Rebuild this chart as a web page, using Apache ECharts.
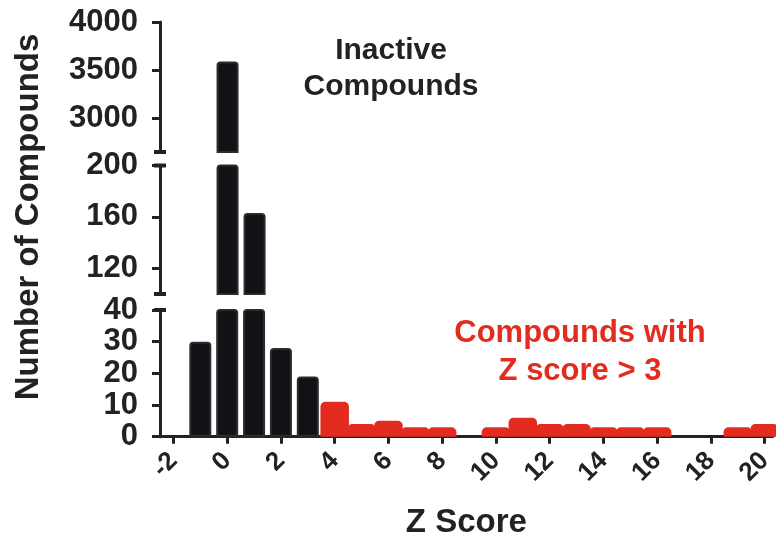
<!DOCTYPE html>
<html>
<head>
<meta charset="utf-8">
<script src="https://cdn.jsdelivr.net/npm/echarts@6/dist/echarts.min.js"></script>
<style>
  html, body { margin: 0; padding: 0; background: #fff; }
  #chart { width: 776px; height: 542px; }
</style>
</head>
<body>
<div id="chart"></div>
<script>
// histogram bins (Z score) and counts
const inactiveBins = [-1, 0, 1, 2, 3]
const inactiveCounts = [30, 3590, 163, 28, 19]
const activeBins = [4, 5, 6, 7, 8, 9, 10, 11, 12, 13, 14, 15, 16, 17, 18, 19, 20]
const activeCounts = [11, 4, 5, 3, 3, 0, 3, 6, 4, 4, 3, 3, 3, 0, 0, 3, 4]
const xTicks = [-2, 0, 2, 4, 6, 8, 10, 12, 14, 16, 18, 20]
// broken y axis: three pieces
const topTicks = [3000, 3500, 4000]
const midTicks = [120, 160, 200]
const lowTicks = [0, 10, 20, 30, 40]

const FONT = '"Liberation Sans", Arial, sans-serif'
const INK = '#222'
const RED = '#e32b1f'

const inactiveData = inactiveBins.map((b, i) => [b, inactiveCounts[i]])
const activeData = activeBins.map((b, i) => [b, activeCounts[i]])

function xAxisFor (gridIndex, visible) {
  return {
    type: 'value',
    gridIndex: gridIndex,
    min: -2.5,
    max: 20.3,
    show: visible,
    splitLine: { show: false },
    axisLine: { onZero: false, lineStyle: { color: INK, width: 3 } },
    axisTick: { customValues: xTicks, length: 7, lineStyle: { color: INK, width: 3 } },
    axisLabel: {
      customValues: xTicks,
      rotate: 45,
      margin: 20,
      color: INK,
      fontFamily: FONT,
      fontWeight: 'bold',
      fontSize: 26,
      formatter: v => String(v)
    }
  }
}

function yAxisFor (gridIndex, min, max, ticks, caps) {
  return {
    type: 'value',
    gridIndex: gridIndex,
    min: min,
    max: max,
    splitLine: { show: false },
    axisLine: {
      onZero: false,
      symbol: caps,
      symbolSize: [12, 4],
      lineStyle: { color: INK, width: 3 }
    },
    axisTick: { customValues: ticks, length: 8, lineStyle: { color: INK, width: 3 } },
    axisLabel: {
      customValues: ticks,
      margin: 22,
      color: INK,
      fontFamily: FONT,
      fontWeight: 'bold',
      fontSize: 31,
      formatter: v => String(v)
    }
  }
}

function inactiveSeries (idx) {
  return {
    type: 'bar',
    xAxisIndex: idx,
    yAxisIndex: idx,
    barWidth: 22,
    clip: true,
    itemStyle: { color: '#111215', borderColor: '#2c2c2e', borderWidth: 2, borderRadius: [3, 3, 0, 0] },
    data: inactiveData
  }
}

const option = {
  animation: false,
  backgroundColor: '#fff',
  grid: [
    { left: 160, right: 0, top: 22, height: 130 },
    { left: 160, right: 0, top: 165.5, height: 128.5 },
    { left: 160, right: 0, top: 310, height: 126.7 }
  ],
  xAxis: [
    xAxisFor(0, false),
    xAxisFor(1, false),
    Object.assign(xAxisFor(2, true), {
      name: 'Z Score',
      nameLocation: 'middle',
      nameGap: 70,
      nameTextStyle: { color: INK, fontFamily: FONT, fontWeight: 'bold', fontSize: 33 }
    }),
    // separate axis for the red bars so their width doesn't shift the black ones
    xAxisFor(2, false)
  ],
  yAxis: [
    yAxisFor(0, 2650, 4000, topTicks, ['rect', 'none']),
    yAxisFor(1, 100, 200, midTicks, ['rect', 'rect']),
    yAxisFor(2, 0, 40, lowTicks, ['none', 'rect'])
  ],
  series: [
    inactiveSeries(0),
    inactiveSeries(1),
    inactiveSeries(2),
    {
      type: 'bar',
      xAxisIndex: 3,
      yAxisIndex: 2,
      barWidth: 28.5,
      clip: true,
      itemStyle: { color: RED, borderRadius: [5, 5, 0, 0] },
      data: activeData
    }
  ],
  graphic: [
    {
      type: 'text',
      x: 29,
      y: 217,
      rotation: Math.PI / 2,
      style: {
        text: 'Number of Compounds',
        fill: INK,
        font: 'bold 33px ' + FONT,
        align: 'center',
        verticalAlign: 'middle'
      }
    },
    {
      type: 'text',
      x: 391,
      y: 69,
      style: {
        text: 'Inactive\nCompounds',
        fill: INK,
        font: 'bold 30px ' + FONT,
        lineHeight: 36,
        align: 'center',
        verticalAlign: 'middle'
      }
    },
    {
      type: 'text',
      x: 580,
      y: 352,
      style: {
        text: 'Compounds with\nZ score > 3',
        fill: RED,
        font: 'bold 31px ' + FONT,
        lineHeight: 38,
        align: 'center',
        verticalAlign: 'middle'
      }
    }
  ]
}

const chart = echarts.init(document.getElementById('chart'))
chart.setOption(option)
</script>
</body>
</html>
